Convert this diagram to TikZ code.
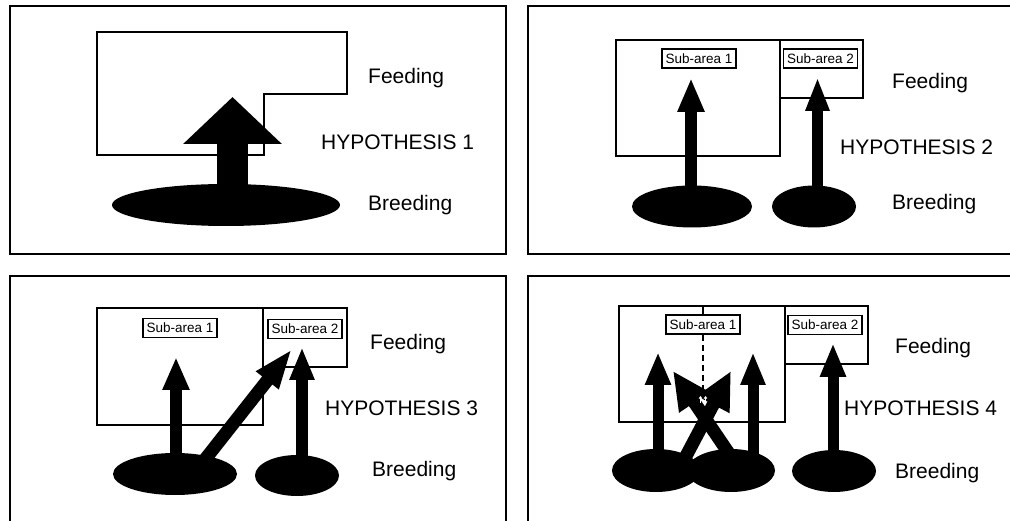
\documentclass[tikz,border=0pt]{standalone}
\usepackage{fontspec}
\setmainfont{Liberation Sans}
\usetikzlibrary{arrows.meta,shapes.geometric}
\tikzset{
  frame/.style={draw, line width=2pt},
  area/.style={draw, line width=1.5pt},
  lbl/.style={draw, fill=white, line width=1.6pt, inner sep=0pt, minimum height=19pt, minimum width=74pt, font=\fontsize{13.5}{14}\selectfont},
  txt/.style={anchor=base west, inner sep=0pt, font=\fontsize{21}{24}\selectfont},
  blob/.style={ellipse, fill=black, draw=none, inner sep=0pt},
}
\begin{document}
\begin{tikzpicture}[x=1pt,y=-1pt]
\useasboundingbox (0,0) rectangle (1010,521);
\clip (0,0) rectangle (1010,521);
\fill[white] (0,0) rectangle (1010,521);
% frames
\draw[frame] (10,6) rectangle (506,254);
\draw[frame] (528,6) rectangle (1030,254);
\draw[frame] (10,276) rectangle (506,540);
\draw[frame] (528,276) rectangle (1030,540);

% ---------- Panel 1 ----------
\draw[area] (97,32) -- (347,32) -- (347,94) -- (264,94) -- (264,155) -- (97,155) -- cycle;
\node[blob, minimum width=228pt, minimum height=42pt] (e11) at (226,205) {};
\coordinate (t11) at (232.5,200);
\coordinate (h11) at (232.5,97);
\draw[line width=31pt, -{Triangle[length=47pt,width=96pt]}] (t11) -- (h11);
\node[txt] (f1) at (368,84) {Feeding};
\node[txt] (hy1) at (321,150) {HYPOTHESIS 1};
\node[txt] (b1) at (368,211) {Breeding};

% ---------- Panel 2 ----------
\draw[area] (616,40) rectangle (780,156);
\draw[area] (780,40) rectangle (863,98);
\node[lbl] (s21) at (699,58.5) {Sub-area 1};
\node[lbl] (s22) at (820.5,58.5) {Sub-area 2};
\node[blob, minimum width=120pt, minimum height=42pt] (e21) at (692,206.5) {};
\node[blob, minimum width=84pt, minimum height=42pt] (e22) at (814,206.5) {};
\coordinate (t21) at (691,200);
\coordinate (h21) at (691,78);
\coordinate (t22) at (817.5,200);
\coordinate (h22) at (817.5,77);
\draw[line width=12pt, -{Triangle[length=34pt,width=25pt]}] (t21) -- (h21);
\draw[line width=11pt, -{Triangle[length=34pt,width=22pt]}] (t22) -- (h22);
\node[txt] (f2) at (892,89) {Feeding};
\node[txt] (hy2) at (840,155) {HYPOTHESIS 2};
\node[txt] (b2) at (892,210) {Breeding};

% ---------- Panel 3 ----------
\draw[area] (97,308) rectangle (263,425);
\draw[area] (263,308) rectangle (347,367);
\node[lbl] (s31) at (180,328) {Sub-area 1};
\node[lbl] (s32) at (305,329) {Sub-area 2};
\node[blob, minimum width=124pt, minimum height=42pt] (e31) at (175,474) {};
\node[blob, minimum width=84pt, minimum height=41pt] (e32) at (297,475.5) {};
\coordinate (t31) at (176,462);
\coordinate (h31) at (176,357);
\coordinate (t32) at (203,462);
\coordinate (h32) at (292,349);
\coordinate (t33) at (302,462);
\coordinate (h33) at (302,347);
\draw[line width=12pt, -{Triangle[length=33pt,width=25pt]}] (t31) -- (h31);
\draw[line width=13pt, -{Triangle[length=40pt,width=26pt]}] (t32) -- (h32);
\draw[line width=12pt, -{Triangle[length=33pt,width=23pt]}] (t33) -- (h33);
\node[txt] (f3) at (370,350) {Feeding};
\node[txt] (hy3) at (325,415) {HYPOTHESIS 3};
\node[txt] (b3) at (372,476) {Breeding};

% ---------- Panel 4 ----------
\draw[area] (619,306) rectangle (785,422);
\draw[area] (785,306) rectangle (868,364);
\node[lbl] (s41) at (703,324.5) {Sub-area 1};
\node[lbl] (s42) at (825,325) {Sub-area 2};
\coordinate (d4top) at (703,306);
\coordinate (d4bot) at (703,397);
\draw[line width=1.2pt] (d4top) -- (s41.north);
\draw[line width=1.5pt, dash pattern=on 6pt off 4pt] (s41.south) -- (d4bot);
\node[blob, minimum width=88pt, minimum height=43pt] (e41) at (656,470.5) {};
\node[blob, minimum width=88pt, minimum height=43pt] (e42) at (731,470.5) {};
\node[blob, minimum width=84pt, minimum height=42pt] (e43) at (834,471) {};
\coordinate (t41) at (658,462);
\coordinate (h41) at (658,352);
\coordinate (t42) at (753,462);
\coordinate (h42) at (753,352);
\coordinate (t43) at (730,455);
\coordinate (h43) at (673,371);
\coordinate (t44) at (685,458);
\coordinate (h44) at (731,371);
\coordinate (t45) at (833,458);
\coordinate (h45) at (833,343);
\draw[line width=11pt, -{Triangle[length=33pt,width=24pt]}] (t41) -- (h41);
\draw[line width=11pt, -{Triangle[length=33pt,width=23pt]}] (t42) -- (h42);
\draw[line width=13pt, -{Triangle[length=38pt,width=34pt]}] (t43) -- (h43);
\draw[line width=13pt, -{Triangle[length=38pt,width=34pt]}] (t44) -- (h44);
\draw[line width=11pt, -{Triangle[length=34pt,width=24pt]}] (t45) -- (h45);
\draw[white, line width=0.8pt, -{Straight Barb[length=2pt,width=3pt]}] (700.5,403) -- (700.5,396);
\draw[white, line width=0.8pt, -{Straight Barb[length=2pt,width=3pt]}] (705.5,403) -- (705.5,396);
\node[txt] (f4) at (895,354) {Feeding};
\node[txt] (hy4) at (844,415) {HYPOTHESIS 4};
\node[txt] (b4) at (895,478) {Breeding};
\end{tikzpicture}
\end{document}
